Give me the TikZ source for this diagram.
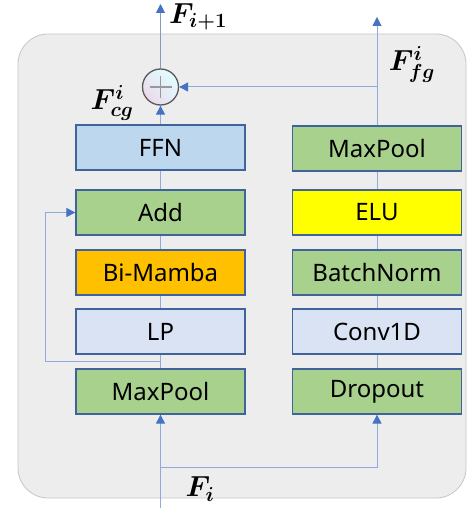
\RequirePackage{fix-cm}
\documentclass[tikz,border=0pt]{standalone}
\usepackage{fontspec}
\usepackage{amsmath}
\usepackage{bm}
\setmainfont{Noto Sans}
\usetikzlibrary{arrows.meta,calc}
\definecolor{boxgreen}{HTML}{A9D18E}
\definecolor{boxblue}{HTML}{BDD7EE}
\definecolor{boxpale}{HTML}{DAE3F3}
\definecolor{boxorange}{HTML}{FFC000}
\definecolor{boxyellow}{HTML}{FFFF00}
\definecolor{boxedge}{HTML}{41639C}
\definecolor{wire}{HTML}{8FAADC}
\definecolor{tip}{HTML}{4472C4}
\definecolor{panel}{HTML}{EDEDED}
\tikzset{
  blk/.style={draw=boxedge, line width=1.3pt, minimum width=169pt, minimum height=45pt,
    inner sep=0pt, font=\fontsize{24}{28}\selectfont},
  wireline/.style={draw=wire, line width=1pt},
  flow/.style={wireline, -{Triangle[length=9pt,width=9pt,color=tip]}},
  mlabel/.style={font=\fontsize{29}{34}\selectfont, inner sep=0pt}
}
\begin{document}
\begin{tikzpicture}[x=1pt,y=-1pt]
\useasboundingbox (0,0) rectangle (468,508);
% panel
\draw[fill=panel, draw=gray!45, line width=0.8pt, rounded corners=30pt] (18,34) rectangle (466,498);

% wires behind the blocks
\draw[wireline] (160.5,391.5) -- (160.5,147);
\draw[wireline] (377,391.5) -- (377,148.5);

% left column
\node[blk, fill=boxblue]   (ffn)  at (160.5,147.5) {FFN};
\node[blk, fill=boxgreen]  (add)  at (160.5,212.5) {Add};
\node[blk, fill=boxorange] (mamba) at (160.5,272.5) {Bi-Mamba};
\node[blk, fill=boxpale]   (lp)   at (160.5,331.5) {LP};
\node[blk, fill=boxgreen]  (mpl)  at (160.5,391.5) {MaxPool};

% right column
\node[blk, fill=boxgreen]  (mpr)  at (377,148.5) {MaxPool};
\node[blk, fill=boxyellow] (elu)  at (377,212.5) {ELU};
\node[blk, fill=boxgreen]  (bn)   at (377,272.5) {BatchNorm};
\node[blk, fill=boxpale]   (conv) at (377,331.5) {Conv1D};
\node[blk, fill=boxgreen]  (drop) at (377,391.5) {Dropout};

% sum node
\node[circle, minimum size=36pt, inner sep=0pt, draw=gray!70!black, line width=1.3pt,
      left color=violet!15, right color=cyan!12, shading angle=135] (sum) at (160.5,87) {};
\draw[gray!80, line width=1.2pt] ($(sum.center)+(-11,0)$) -- ($(sum.center)+(11,0)$)
      ($(sum.center)+(0,-11)$) -- ($(sum.center)+(0,11)$);

% coordinates for free ends and branches
\coordinate (outL) at (160.5,4);
\coordinate (outR) at (377,17);
\coordinate (join) at (377,87);
\coordinate (inp)  at (160.5,508);
\coordinate (split) at (160.5,467);
\coordinate (splitR) at (377,467);
\coordinate (skip) at (160.5,361);
\coordinate (skipL) at (45,361);
\coordinate (skipU) at (45,212.5);

% connectors
\draw[flow] (ffn.north) -- (sum.south);
\draw[flow, draw=wire!60!gray] (sum.north) -- (outL);
\draw[flow] (mpr.north) -- (outR);
\draw[flow] (join) -- (sum.east);
\draw[flow] (inp) -- (mpl.south);
\draw[flow] (split) -- (splitR) -- (drop.south);
\draw[flow] (skip) -- (skipL) -- (skipU) -- (add.west);

% labels
\node[mlabel] (lout) at (198,17) {$\bm{F_{i+1}}$};
\node[mlabel] (lfg)  at (412,64) {$\bm{F^{i}_{fg}}$};
\node[mlabel] (lcg)  at (112,103) {$\bm{F^{i}_{cg}}$};
\node[mlabel] (lin)  at (200,489) {$\bm{F_{i}}$};
\end{tikzpicture}
\end{document}
